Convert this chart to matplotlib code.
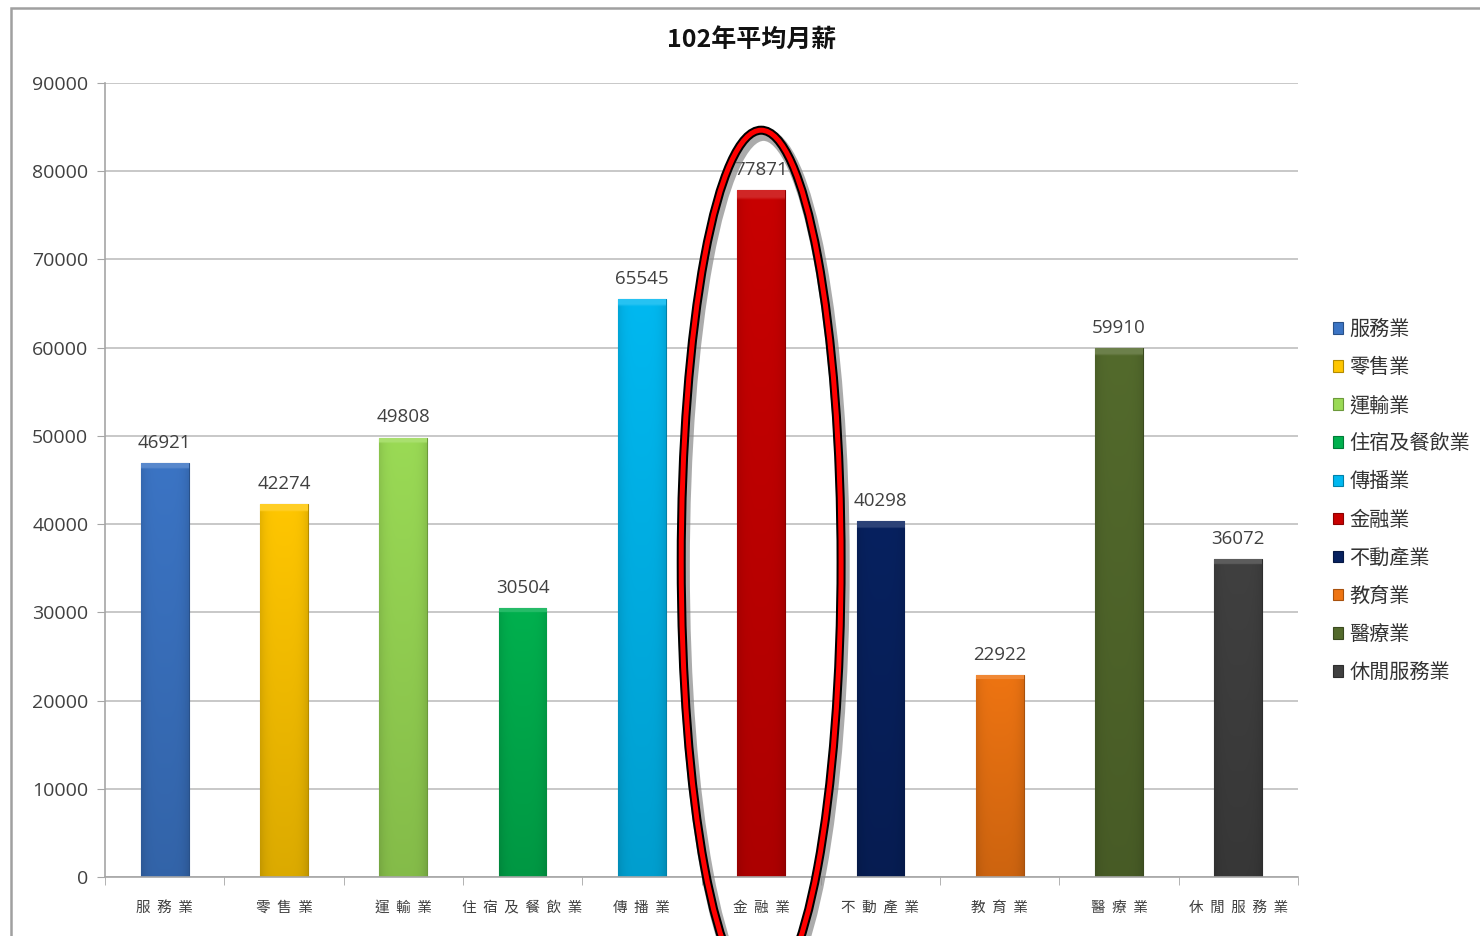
import matplotlib
matplotlib.use("Agg")
import matplotlib.pyplot as plt
from matplotlib.patches import Ellipse, Rectangle
from matplotlib.colors import to_rgb
import numpy as np

plt.rcParams['font.family'] = ['Noto Sans CJK TC', 'DejaVu Sans']

# 各行業與平均月薪
industries = ["服務業", "零售業", "運輸業", "住宿及餐飲業", "傳播業",
              "金融業", "不動產業", "教育業", "醫療業", "休閒服務業"]
salaries = [46921, 42274, 49808, 30504, 65545, 77871, 40298, 22922, 59910, 36072]
colors = ["#3B74C4", "#FFC600", "#9ADA55", "#00B04E", "#00B8F0",
          "#C80000", "#07215F", "#EE7412", "#536A2C", "#404040"]
yticks = list(range(0, 90001, 10000))

fig = plt.figure(figsize=(14.8, 9.36), dpi=100)
ax = fig.add_axes([105 / 1480, 1 - 877 / 936, (1298 - 105) / 1480, (877 - 83) / 936])

x = np.arange(len(industries))
bars = ax.bar(x, salaries, width=0.4, color=colors, zorder=2)

# 仿 Excel 的立體漸層
for b, c in zip(bars, colors):
    rgb = np.array(to_rgb(c))
    b.set_edgecolor(tuple(rgb * 0.7))
    b.set_linewidth(0.8)
    u = np.linspace(0, 1, 60)
    v = np.linspace(0, 1, 160)
    U, V = np.meshgrid(u, v)
    shade = 0.86 + 0.14 * V - 0.10 * np.abs(2 * U - 1) ** 4
    img = np.clip(rgb[None, None, :] * shade[:, :, None], 0, 1)
    # 上方亮邊
    top = V > 1 - 5 / (b.get_height() / 90000 * 794)
    img[top] = np.clip(rgb * 0.85 + 0.15, 0, 1)
    im = ax.imshow(img, extent=(b.get_x(), b.get_x() + b.get_width(), 0, b.get_height()),
                   origin="lower", aspect="auto", zorder=2.5)
    im.set_clip_path(b)

for xi, s in zip(x, salaries):
    ax.annotate(str(s), (xi, s), xytext=(0, 8), textcoords="offset points",
                ha="center", va="bottom", fontsize=13.5, color="#404040",
                family=["Open Sans", "DejaVu Sans"])

ax.set_xlim(-0.5, len(industries) - 0.5)
ax.set_ylim(0, 90000)
ax.set_yticks(yticks)
ax.set_yticklabels([str(t) for t in yticks], family=["Open Sans", "DejaVu Sans"],
                   fontsize=14, color="#404040")
ax.yaxis.grid(True, color="#BFBFBF", linewidth=1.2, zorder=0)
ax.set_axisbelow(True)

ax.set_xticks(x)
ax.set_xticklabels(["  ".join(n) for n in industries], fontsize=10.5, color="#404040")
ax.tick_params(axis="x", which="major", length=0, pad=17)
ax.set_xticks(np.arange(-0.5, len(industries)), minor=True)
ax.tick_params(axis="x", which="minor", length=6, color="#A6A6A6", direction="out")
ax.tick_params(axis="y", length=6, color="#A6A6A6", pad=6)

for side in ["top", "right"]:
    ax.spines[side].set_visible(False)
for side in ["left", "bottom"]:
    ax.spines[side].set_color("#A6A6A6")
    ax.spines[side].set_linewidth(1.2)

fig.text(752 / 1480, 1 - 40 / 936, "102年平均月薪", ha="center", va="center",
         fontsize=18, fontweight="bold", color="#111111")

ax.legend(loc="center left", bbox_to_anchor=(1323 / 1480, 1 - 501 / 936),
          bbox_transform=fig.transFigure, frameon=False, fontsize=14.5,
          handlelength=0.5, handleheight=0.5, handletextpad=0.3,
          labelspacing=0.85, borderpad=0, labelcolor="#333333",
          handles=list(bars), labels=industries)

# 圈出金融業
idx = industries.index("金融業")
ell_kw = dict(xy=(idx, 35700), width=1.34, height=97900, fill=False, clip_on=False)
ax.add_patch(Ellipse(xy=(idx + 0.02, 35200), width=1.34, height=97900, fill=False,
                     clip_on=False, edgecolor="#888888", linewidth=9, alpha=0.7, zorder=9))
ax.add_patch(Ellipse(**ell_kw, edgecolor="black", linewidth=6.5, zorder=10))
ax.add_patch(Ellipse(**ell_kw, edgecolor="#FF0000", linewidth=3.6, zorder=11))

# 外框
fig.patches.append(Rectangle((11 / 1480, -0.2), 1.2, 1.2 - 8 / 936,
                             transform=fig.transFigure, fill=False,
                             edgecolor="#A0A0A0", linewidth=1.8))

plt.savefig("out.png", dpi=100)
